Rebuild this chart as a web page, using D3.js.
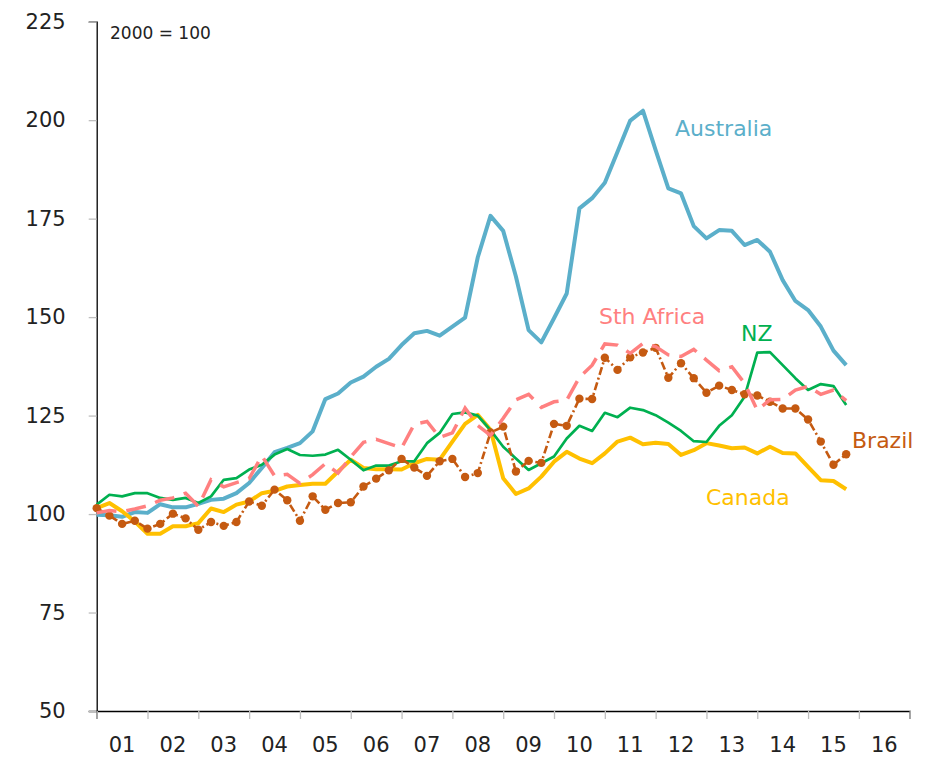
<!DOCTYPE html>
<html>
<head>
<meta charset="utf-8">
<script src="https://cdn.jsdelivr.net/npm/d3@7"></script>
<style>
  body { margin: 0; background: #fff; }
  svg { display: block; font-family: "DejaVu Sans", sans-serif; }
</style>
</head>
<body>
<svg id="chart" width="929" height="757"></svg>
<script>
// quarterly index, 2000 = 100, from 2001 Q1 to 2015 Q4
const startYear = 2001;
const yearTicks = d3.range(2001, 2017);
const yTicks = [50, 75, 100, 125, 150, 175, 200, 225];

const australia = [99.8, 99.7, 99.3, 100.5, 100.3, 102.5, 101.7, 101.7, 102.6, 103.6, 103.9, 105.3,
  107.9, 111.7, 115.7, 116.8, 118.0, 121.0, 129.2, 130.6, 133.4, 134.9, 137.4, 139.4,
  142.9, 145.9, 146.5, 145.3, 147.6, 149.9, 165.2, 175.7, 171.9, 160.3, 146.7, 143.6,
  149.7, 156.0, 177.6, 180.2, 184.1, 192.0, 199.9, 202.4, 192.4, 182.7, 181.4, 173.1,
  170.0, 172.1, 171.9, 168.3, 169.6, 166.6, 159.4, 154.1, 151.8, 147.6, 141.5, 137.8];

const nz = [102.4, 104.9, 104.5, 105.3, 105.3, 104.1, 103.6, 104.1, 102.8, 104.5, 108.7, 109.1,
  111.3, 112.5, 115.1, 116.5, 115.0, 114.8, 115.1, 116.3, 113.8, 111.1, 112.3, 112.3,
  113.4, 113.4, 118.0, 120.6, 125.4, 125.8, 125.0, 121.3, 117.1, 114.1, 111.2, 112.9,
  114.6, 119.2, 122.4, 121.1, 125.7, 124.6, 127.0, 126.4, 125.1, 123.2, 121.1, 118.5,
  118.3, 122.4, 125.1, 129.8, 141.0, 141.1, 137.8, 134.5, 131.5, 133.0, 132.5, 127.7];

const canada = [101.5, 102.8, 100.7, 98.1, 95.0, 95.0, 96.9, 96.9, 97.7, 101.4, 100.5, 102.4,
  103.2, 105.3, 105.9, 107.0, 107.4, 107.7, 107.7, 110.8, 113.8, 111.7, 111.4, 111.4,
  111.3, 112.9, 114.0, 113.8, 118.4, 122.9, 125.2, 121.4, 109.1, 105.1, 106.5, 109.5,
  113.3, 115.8, 114.1, 112.9, 115.4, 118.4, 119.4, 117.7, 118.1, 117.8, 115.0, 116.2,
  118.0, 117.4, 116.7, 116.9, 115.4, 117.1, 115.5, 115.4, 112.0, 108.6, 108.4, 106.3];

const brazil = [101.5, 99.6, 97.5, 98.3, 96.3, 97.5, 100.1, 98.9, 96.0, 98.0, 97.0, 98.0,
  103.2, 102.1, 106.2, 103.5, 98.3, 104.5, 101.1, 102.8, 103.0, 107.0, 109.0, 111.1,
  114.0, 111.8, 109.7, 113.4, 114.0, 109.4, 110.4, 120.7, 122.2, 110.8, 113.5, 113.0,
  122.9, 122.4, 129.3, 129.2, 139.7, 136.6, 139.8, 141.0, 142.2, 134.6, 138.3, 134.5,
  130.8, 132.6, 131.5, 130.4, 130.1, 128.5, 126.8, 126.8, 124.0, 118.4, 112.5, 115.2];

const sthAfrica = [100.3, 100.9, 100.6, 101.3, 102.1, 103.5, 104.1, 105.3, 102.0, 108.7, 106.9, 108.0,
  109.0, 114.8, 109.7, 110.1, 107.8, 110.0, 112.8, 110.4, 114.5, 118.2, 119.0, 117.9,
  116.8, 122.8, 123.5, 119.5, 120.6, 126.9, 122.5, 120.0, 124.3, 129.0, 130.4, 127.1,
  128.5, 128.9, 134.7, 137.8, 143.2, 142.9, 140.8, 143.3, 142.5, 140.4, 140.0, 141.8,
  139.1, 136.4, 137.4, 133.2, 126.4, 129.0, 129.1, 131.5, 132.4, 130.4, 131.5, 128.8];

const seriesNames = ["Australia", "NZ", "Canada", "Brazil", "Sth Africa"];

const svg = d3.select("#chart");

const x = d3.scaleLinear().domain([2001, 2017]).range([96.7, 909.7]);
const y = d3.scaleLinear().domain([50, 225]).range([711, 21.7]);

const toPoints = arr => arr.map((v, i) => ({ t: startYear + i / 4, v: v }));
const line = d3.line().x(d => x(d.t)).y(d => y(d.v));

// y axis
const yAxis = svg.append("g")
  .attr("transform", `translate(${x(2001)},0)`)
  .call(d3.axisLeft(y).tickValues(yTicks).tickSize(8).tickPadding(23));
yAxis.select(".domain").attr("stroke", "#000").attr("stroke-width", 1.3);
yAxis.selectAll(".tick line").attr("stroke", "#bfbfbf").attr("stroke-width", 1.3);
yAxis.selectAll(".tick text")
  .attr("fill", "#222")
  .style("font-size", "21px")
  .style("font-family", "DejaVu Sans, sans-serif");

// x axis, labels centred in each year
const xAxis = svg.append("g")
  .attr("transform", `translate(0,${y(50)})`)
  .call(d3.axisBottom(x).tickValues(d3.range(2001, 2018)).tickSize(8).tickFormat(""));
xAxis.select(".domain").attr("stroke", "#000").attr("stroke-width", 1.3);
xAxis.selectAll(".tick line").attr("stroke", "#bfbfbf").attr("stroke-width", 1.3);

svg.append("g").selectAll("text")
  .data(yearTicks)
  .enter().append("text")
  .attr("x", d => x(d + 0.5))
  .attr("y", 752)
  .attr("text-anchor", "middle")
  .attr("fill", "#222")
  .style("font-size", "21px")
  .text(d => d3.format("02")(d % 100));

svg.append("text")
  .attr("x", 110)
  .attr("y", 39)
  .attr("fill", "#222")
  .style("font-size", "17px")
  .text("2000 = 100");

// series lines
const plot = svg.append("g");

plot.append("path")
  .datum(toPoints(australia))
  .attr("d", line)
  .attr("fill", "none")
  .attr("stroke", "#5bafca")
  .attr("stroke-width", 4)
  .attr("stroke-linejoin", "round");

plot.append("path")
  .datum(toPoints(canada))
  .attr("d", line)
  .attr("fill", "none")
  .attr("stroke", "#ffc000")
  .attr("stroke-width", 4)
  .attr("stroke-linejoin", "round");

plot.append("path")
  .datum(toPoints(nz))
  .attr("d", line)
  .attr("fill", "none")
  .attr("stroke", "#00b050")
  .attr("stroke-width", 2.7)
  .attr("stroke-linejoin", "round");

plot.append("path")
  .datum(toPoints(brazil))
  .attr("d", line)
  .attr("fill", "none")
  .attr("stroke", "#c55a11")
  .attr("stroke-width", 2.6)
  .attr("stroke-dasharray", "8,3,2,3");

plot.append("g").selectAll("circle")
  .data(toPoints(brazil))
  .enter().append("circle")
  .attr("cx", d => x(d.t))
  .attr("cy", d => y(d.v))
  .attr("r", 4.2)
  .attr("fill", "#c55a11");

plot.append("path")
  .datum(toPoints(sthAfrica))
  .attr("d", line)
  .attr("fill", "none")
  .attr("stroke", "#ff8080")
  .attr("stroke-width", 3.5)
  .attr("stroke-dasharray", "20,10");

// series labels
const labels = [
  { name: seriesNames[0], color: "#5bafca", x: 675, y: 136 },
  { name: seriesNames[4], color: "#ff8080", x: 599, y: 324 },
  { name: seriesNames[1], color: "#00b050", x: 741, y: 341 },
  { name: seriesNames[3], color: "#c55a11", x: 852, y: 448 },
  { name: seriesNames[2], color: "#ffc000", x: 706, y: 505 }
];

svg.append("g").selectAll("text")
  .data(labels)
  .enter().append("text")
  .attr("x", d => d.x)
  .attr("y", d => d.y)
  .attr("fill", d => d.color)
  .style("font-size", "22px")
  .text(d => d.name);
</script>
</body>
</html>
